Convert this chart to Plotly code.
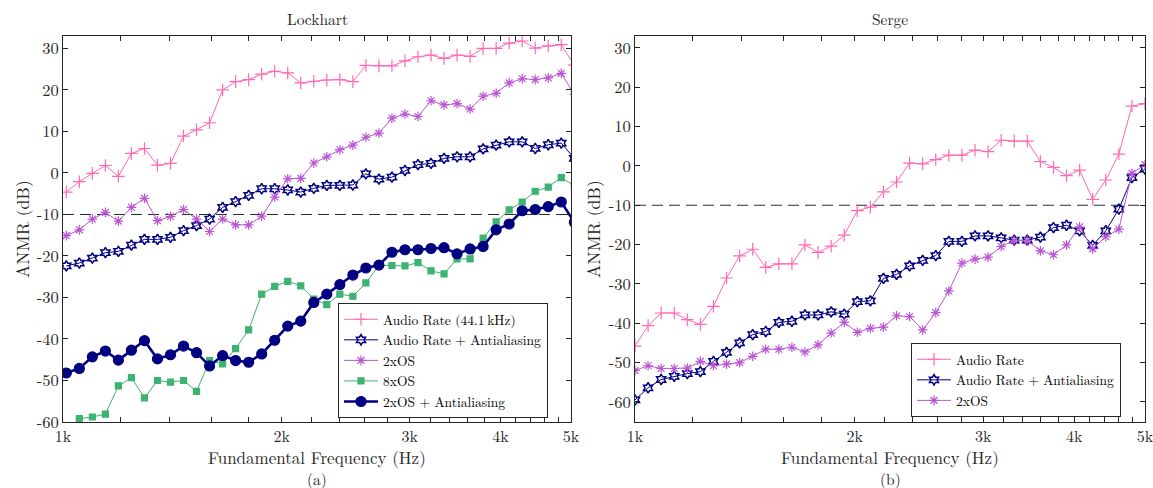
import plotly.graph_objects as go

# ---------------- data ----------------
FREQ = [1000.0, 1042.13, 1086.04, 1131.80, 1179.48, 1229.17, 1280.96, 1334.93,
        1391.17, 1449.78, 1510.86, 1574.52, 1640.85, 1709.98, 1782.03, 1857.11,
        1935.35, 2016.89, 2101.86, 2190.41, 2282.70, 2378.87, 2479.10, 2583.54,
        2692.39, 2805.82, 2924.03, 3047.22, 3175.60, 3309.39, 3448.82, 3594.12,
        3745.55, 3903.35, 4067.80, 4239.18, 4417.78, 4603.90, 4797.87, 5000.00]
# Lockhart sweep is offset by a quarter step from the Serge sweep
LOCKHART_SHIFT = 1.0105
FREQ_L = [f * LOCKHART_SHIFT for f in FREQ]

lock_audio = [-4.6, -2.1, -0.1, 1.8, -0.8, 4.7, 5.9, 1.9, 2.3, 8.9, 10.4, 12.1, 20.0, 22.0,
              22.5, 23.8, 24.5, 24.1, 21.7, 22.1, 22.4, 22.5, 22.0, 25.9, 25.8, 25.8, 27.0,
              28.0, 28.4, 27.6, 28.4, 28.1, 30.0, 30.0, 31.3, 31.8, 30.1, 30.6, 30.9, 26.0]
lock_audio_aa = [-22.4, -21.7, -20.5, -19.2, -18.9, -17.4, -16.0, -16.0, -15.5, -13.9, -12.7,
                 -11.1, -8.3, -6.9, -5.4, -3.8, -3.8, -4.1, -4.6, -3.7, -3.0, -3.0, -2.9, -0.2,
                 -1.5, -1.0, 0.6, 2.0, 2.3, 3.5, 3.9, 3.9, 5.8, 6.7, 7.5, 7.5, 5.9, 6.8, 7.2, 3.5]
lock_2xos = [-15.1, -13.7, -11.1, -9.5, -11.6, -8.3, -6.1, -11.5, -10.5, -8.8, -11.1, -14.1,
             -11.1, -12.5, -12.5, -10.4, -5.8, -1.4, -1.3, 2.4, 3.9, 5.6, 6.7, 8.6, 9.6, 13.2,
             14.2, 13.6, 17.4, 16.4, 16.7, 15.4, 18.5, 19.2, 21.7, 22.7, 22.5, 22.9, 24.0, 18.9]
lock_8xos = [None, -59.2, -58.8, -58.1, -51.3, -49.3, -54.2, -50.0, -50.4, -50.0, -52.6, -45.2,
             -46.0, -42.3, -37.8, -29.2, -27.3, -26.1, -27.2, -30.4, -31.7, -29.2, -29.7, -26.5,
             -22.3, -22.3, -22.4, -21.6, -23.6, -24.3, -20.7, -20.7, -15.7, -11.8, -8.9, -7.0,
             -4.4, -3.4, -1.1, -3.1]
lock_2xos_aa = [-48.2, -47.1, -44.3, -42.9, -45.1, -42.7, -40.4, -44.8, -43.8, -41.7, -43.3,
                -46.5, -44.0, -45.2, -45.6, -43.6, -40.3, -36.9, -35.7, -31.2, -29.2, -26.9,
                -24.6, -22.9, -22.2, -19.1, -18.5, -18.5, -18.2, -18.0, -19.5, -18.3, -17.7,
                -13.7, -12.3, -9.1, -8.8, -8.1, -7.0, -11.9]

serge_audio = [-45.8, -40.6, -37.4, -37.4, -39.1, -40.3, -35.7, -28.5, -22.9, -21.2, -25.8,
               -24.9, -24.9, -20.1, -22.0, -20.4, -17.6, -11.4, -10.5, -6.6, -4.1, 0.7, 0.5,
               1.6, 2.7, 2.7, 4.0, 3.6, 6.5, 6.3, 6.3, 1.1, -0.4, -2.5, -1.1, -8.5, -3.6, 3.0,
               15.2, 15.8]
serge_audio_aa = [-59.5, -56.4, -54.3, -53.5, -52.8, -52.3, -49.7, -47.4, -45.0, -42.9, -42.1,
                  -39.8, -39.5, -37.9, -37.9, -37.1, -37.7, -34.5, -34.3, -28.6, -27.6, -25.4,
                  -24.0, -22.8, -19.2, -19.2, -17.8, -17.8, -18.3, -18.9, -18.9, -18.1, -15.7,
                  -15.1, -16.5, -20.2, -16.5, -11.0, -3.0, -0.8]
serge_2xos = [-52.0, -50.8, -51.5, -51.5, -51.4, -49.7, -50.8, -50.4, -50.0, -48.4, -46.6,
              -46.6, -46.1, -47.3, -45.5, -42.5, -39.8, -42.3, -41.3, -41.0, -38.1, -38.3,
              -41.7, -37.3, -31.8, -24.7, -23.7, -23.2, -20.5, -19.0, -19.0, -21.6, -22.6,
              -20.1, -15.5, -21.1, -18.0, -16.1, -1.9, 0.3]

THRESHOLD = -10
X_TICKS = list(range(1000, 5001, 200))
X_LABELS = {1000: "1k", 2000: "2k", 3000: "3k", 4000: "4k", 5000: "5k"}
Y_TICKS = list(range(-60, 31, 10))

# ---------------- style ----------------
PINK = "#FF69B4"
NAVY = "#000080"
PURPLE = "#BA55D3"
GREEN = "#3CB371"
FONT = "Latin Modern Roman, CMU Serif, Liberation Serif, serif"
INK = "#262626"

fig = go.Figure()

def add(xs, ys, name, color, symbol, msize, lw, xa, ya, legend, mlw=1.2):
    fig.add_trace(go.Scatter(
        x=xs, y=ys, name=name, mode="lines+markers",
        line=dict(color=color, width=lw),
        marker=dict(symbol=symbol, size=msize, color=color,
                    line=dict(color=color, width=mlw)),
        xaxis=xa, yaxis=ya, legend=legend, connectgaps=False,
        cliponaxis=True))

# threshold lines (drawn first, under data)
for xa, ya in (("x", "y"), ("x2", "y2")):
    fig.add_trace(go.Scatter(x=[1000, 5000], y=[THRESHOLD, THRESHOLD], mode="lines",
                             line=dict(color="#2a2a2a", width=1.1, dash="11px,6px"),
                             xaxis=xa, yaxis=ya, showlegend=False, hoverinfo="skip"))

add(FREQ_L, lock_audio, "Audio Rate (44.1\u2009kHz)", PINK, "cross-thin-open", 9, 1, "x", "y", "legend")
add(FREQ_L, lock_audio_aa, "Audio Rate + Antialiasing", NAVY, "hexagram-open", 8, 1, "x", "y", "legend", 1.5)
add(FREQ_L, lock_2xos, "2xOS", PURPLE, "asterisk-open", 8, 1, "x", "y", "legend")
add(FREQ_L, lock_8xos, "8xOS", GREEN, "square", 6, 1, "x", "y", "legend")
add(FREQ_L, lock_2xos_aa, "2xOS + Antialiasing", NAVY, "circle", 10, 2.6, "x", "y", "legend")

add(FREQ, serge_audio, "Audio Rate", PINK, "cross-thin-open", 9, 1, "x2", "y2", "legend2")
add(FREQ, serge_audio_aa, "Audio Rate + Antialiasing", NAVY, "hexagram-open", 8, 1, "x2", "y2", "legend2", 1.5)
add(FREQ, serge_2xos, "2xOS", PURPLE, "asterisk-open", 8, 1, "x2", "y2", "legend2")

W, H = 1153, 488
L_DOM = [63 / W, 571 / W]
R_DOM = [635 / W, 1145 / W]
Y_DOM = [1 - 422 / H, 1 - 36 / H]

xaxis_common = dict(type="log", range=[3, 3.69897], tickvals=X_TICKS,
                    ticktext=[X_LABELS.get(v, "") for v in X_TICKS],
                    ticks="inside", ticklen=5, tickwidth=1, tickcolor=INK,
                    showline=True, linecolor=INK, linewidth=1, mirror="ticks",
                    showgrid=False, zeroline=False, automargin=False,
                    ticklabeloverflow="allow",
                    tickfont=dict(family=FONT, size=16, color=INK))
yaxis_common = dict(tickvals=Y_TICKS, ticktext=[str(v) for v in Y_TICKS],
                    ticks="inside", ticklen=5, tickwidth=1, tickcolor=INK,
                    showline=True, linecolor=INK, linewidth=1, mirror="ticks",
                    showgrid=False, zeroline=False, automargin=False,
                    ticklabeloverflow="allow",
                    tickfont=dict(family=FONT, size=16.5, color=INK))

legend_common = dict(bgcolor="white", bordercolor=INK, borderwidth=1,
                     font=dict(family=FONT, size=13.5, color="black"),
                     xanchor="left", yanchor="top", itemwidth=34, tracegroupgap=0)

fig.update_layout(
    width=W, height=H, autosize=False,
    margin=dict(l=0, r=0, t=0, b=0, pad=0, autoexpand=False),
    paper_bgcolor="white", plot_bgcolor="white",
    font=dict(family=FONT, color=INK),
    xaxis=dict(domain=L_DOM, anchor="y", **xaxis_common),
    yaxis=dict(domain=Y_DOM, anchor="x", range=[-60, 33], **yaxis_common),
    xaxis2=dict(domain=R_DOM, anchor="y2", **xaxis_common),
    yaxis2=dict(domain=Y_DOM, anchor="x2", range=[-65.1, 33], **yaxis_common),
    legend=dict(x=338 / W, y=1 - 303 / H, **legend_common),
    legend2=dict(x=911 / W, y=1 - 343 / H, **legend_common),
    showlegend=True,
)

def note(text, x, y, size, angle=0):
    fig.add_annotation(text=text, x=x, y=y, xref="paper", yref="paper",
                       showarrow=False, textangle=angle,
                       font=dict(family=FONT, size=size, color=INK),
                       xanchor="center", yanchor="middle")

lc = (L_DOM[0] + L_DOM[1]) / 2
rc = (R_DOM[0] + R_DOM[1]) / 2
note("Lockhart", lc, 1 - 19 / H, 15.5)
note("Serge", rc, 1 - 19 / H, 15.5)
note("Fundamental Frequency (Hz)", lc, 1 - 456.7 / H, 17)
note("Fundamental Frequency (Hz)", rc, 1 - 456.7 / H, 17)
note("(a)", lc, 1 - 478 / H, 15.5)
note("(b)", rc, 1 - 478 / H, 15.5)
note("ANMR (dB)", 22 / W, 1 - 229 / H, 17.7, -90)
note("ANMR (dB)", 593 / W, 1 - 229 / H, 17.7, -90)

fig.write_html("out.html", config={"responsive": False, "displayModeBar": False},
               post_script="document.body.style.margin='0';document.body.style.overflow='hidden';")
